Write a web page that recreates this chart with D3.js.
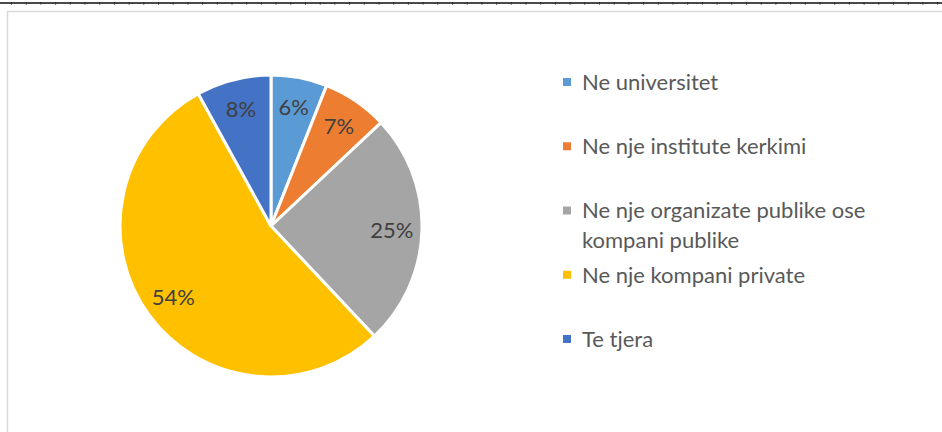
<!DOCTYPE html>
<html>
<head>
<meta charset="utf-8">
<script src="https://cdn.jsdelivr.net/npm/d3@7/dist/d3.min.js"></script>
<style>
  html, body { margin: 0; padding: 0; background: #ffffff; }
  svg { display: block; }
</style>
</head>
<body>
<svg id="chart" width="942" height="432"></svg>
<script>
// Where respondents work
const categories = [
  "Ne universitet",
  "Ne nje institute kerkimi",
  "Ne nje organizate publike ose kompani publike",
  "Ne nje kompani private",
  "Te tjera"
];
const values = [6, 7, 25, 54, 8];
const colors = ["#5B9BD5", "#ED7D31", "#A5A5A5", "#FFC000", "#4472C4"];

const W = 942, H = 432;
const FONT = "Lato, 'Open Sans', sans-serif";
const svg = d3.select("#chart");

// page rule along the very top
const rule = svg.append("g");
rule.append("line")
  .attr("x1", 0).attr("x2", W).attr("y1", 3).attr("y2", 3)
  .attr("stroke", "#4a4a4a").attr("stroke-width", 2);
const tickX = d3.range(11.5, W, 14.7);
rule.selectAll("line.tk").data(tickX).join("line")
  .attr("class", "tk")
  .attr("x1", d => d).attr("x2", d => d)
  .attr("y1", 2).attr("y2", 4.8)
  .attr("stroke", "#2a2a2a").attr("stroke-width", 0.8);

// chart area frame (top and left edges)
svg.append("path")
  .attr("d", `M7.5,${H} V11.5 H${W}`)
  .attr("fill", "none").attr("stroke", "#D9D9D9").attr("stroke-width", 1.5);

// pie
const cx = 271, cy = 226, R = 151;
const pie = d3.pie().sort(null).value(d => d)(values);
const arc = d3.arc().innerRadius(0).outerRadius(R);
const labelArc = d3.arc().innerRadius(R * 0.8).outerRadius(R * 0.8);
const total = d3.sum(values);

const g = svg.append("g").attr("transform", `translate(${cx},${cy})`);
g.selectAll("path.slice").data(pie).join("path")
  .attr("class", "slice")
  .attr("d", arc)
  .attr("fill", (d, i) => colors[i])
  .attr("stroke", "#ffffff")
  .attr("stroke-width", 3)
  .attr("stroke-linejoin", "round");

g.selectAll("text.lbl").data(pie).join("text")
  .attr("class", "lbl")
  .attr("transform", d => `translate(${labelArc.centroid(d)})`)
  .attr("text-anchor", "middle")
  .attr("dy", "0.36em")
  .attr("font-family", FONT)
  .attr("font-size", 22)
  .attr("fill", "#404040")
  .text(d => Math.round(d.data / total * 100) + "%");

// legend
const legX = 563, textX = 582, maxTextW = 330, lineH = 30;
const rowY = d3.scalePoint().domain(categories).range([82, 339]);

const leg = svg.append("g");
categories.forEach((name, i) => {
  const y = rowY(name);
  leg.append("rect")
    .attr("x", legX).attr("y", y - 4).attr("width", 8).attr("height", 8)
    .attr("fill", colors[i]);
  const t = leg.append("text")
    .attr("font-family", FONT)
    .attr("font-size", 22)
    .attr("fill", "#595959");
  // wrap words onto lines no wider than maxTextW
  const words = name.split(" ");
  let line = [], lines = [];
  const probe = t.append("tspan");
  words.forEach(w => {
    const trial = line.concat(w).join(" ");
    probe.text(trial);
    if (line.length && probe.node().getComputedTextLength() > maxTextW) {
      lines.push(line.join(" "));
      line = [w];
    } else {
      line.push(w);
    }
  });
  lines.push(line.join(" "));
  probe.remove();
  lines.forEach((s, k) => {
    t.append("tspan")
      .attr("x", textX)
      .attr("y", y + k * lineH)
      .attr("dy", "0.36em")
      .text(s);
  });
});
</script>
</body>
</html>
